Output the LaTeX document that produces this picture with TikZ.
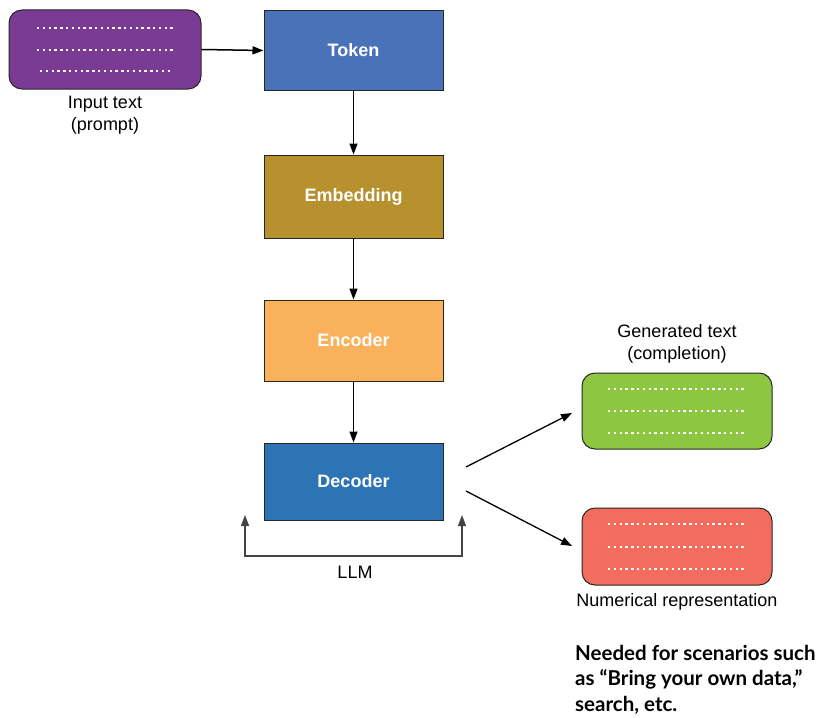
\documentclass[tikz,border=0pt]{standalone}
\usepackage{fontspec}
\setmainfont{Liberation Sans}
\newfontfamily\notefont{Lato}
\usetikzlibrary{arrows.meta}

\definecolor{cPurple}{HTML}{7B3B94}
\definecolor{cToken}{HTML}{4A72B9}
\definecolor{cEmbed}{HTML}{B8912F}
\definecolor{cEncode}{HTML}{F9B25B}
\definecolor{cDecode}{HTML}{2E74B5}
\definecolor{cGreen}{HTML}{8DC641}
\definecolor{cRed}{HTML}{F26D5E}
\definecolor{cBracket}{HTML}{444444}

\tikzset{
  stage/.style={draw=black!85, line width=1pt, minimum width=179pt, minimum height=80pt,
    inner sep=0pt, text=white, font=\fontsize{18}{20}\selectfont\bfseries},
  textbox/.style={draw=black!85, line width=1pt, rounded corners=13pt,
    minimum width=191pt, minimum height=77pt, inner sep=0pt},
  dotrow/.style={white, line width=2.6pt, dash pattern=on 2.4pt off 3.4pt},
  caption/.style={font=\fontsize{18}{22}\selectfont, align=center, inner sep=0pt},
  tip/.style={Triangle[length=11pt,width=8pt]},
  flow/.style={line width=1.5pt, -{Triangle[length=11pt,width=8pt]}},
  bracket/.style={cBracket, line width=1.2pt, {Triangle[length=11pt,width=8pt]}-{Triangle[length=11pt,width=8pt]}}
}

\begin{document}
\begin{tikzpicture}[x=1pt,y=-1pt]
\useasboundingbox (0,0) rectangle (821,717);

% input prompt
\node[textbox, fill=cPurple, minimum width=192pt, minimum height=79pt] (input) at (105,49.5) {};
\draw[dotrow] (37,28) -- (175,28);
\draw[dotrow] (37,50) -- (175,50);
\draw[dotrow] (40,71) -- (172,71);
\node[caption] (inputlbl) at (105,115) {Input text\\(prompt)};

% LLM pipeline stages
\node[stage, fill=cToken] (token) at (353.5,50.5) {Token};
\node[stage, fill=cEmbed, minimum height=83pt] (embed) at (353.5,196.5) {Embedding};
\node[stage, fill=cEncode, minimum height=81pt] (encode) at (353.5,340.5) {Encoder};
\node[stage, fill=cDecode, minimum height=77pt] (decode) at (353.5,481.5) {Decoder};

\draw[flow] (input.east) -- (token.west);
\draw[flow] (token) -- (embed);
\draw[flow] (embed) -- (encode);
\draw[flow] (encode) -- (decode);

% bracket marking the LLM
\coordinate (brL) at (245,515);
\coordinate (brR) at (462,515);
\draw[bracket] (brL) -- (245,556) -- (462,556) -- (brR);
\node[caption] (llm) at (355,572) {LLM};

% outputs
\node[textbox, fill=cGreen, minimum width=190pt, minimum height=76pt] (gen) at (677,411) {};
\draw[dotrow] (608,389) -- (747,389);
\draw[dotrow] (608,411) -- (747,411);
\draw[dotrow] (608,433) -- (747,433);
\node[caption] (genlbl) at (677,344) {Generated text\\(completion)};

\node[textbox, fill=cRed, minimum width=190pt, minimum height=77pt] (num) at (677,546.5) {};
\draw[dotrow] (608,524) -- (747,524);
\draw[dotrow] (608,547) -- (747,547);
\draw[dotrow] (608,569) -- (747,569);
\node[caption] (numlbl) at (677,602) {Numerical representation};

\coordinate (outA) at (466,467);
\coordinate (outB) at (466,491);
\coordinate (genIn) at (572,413);
\coordinate (numIn) at (572,546);
\draw[flow, line width=1.3pt] (outA) -- (genIn);
\draw[flow, line width=1.3pt] (outB) -- (numIn);

% note
\node[anchor=north west, inner sep=0pt, align=left,
  font=\notefont\fontsize{20.5}{25.5}\selectfont\bfseries] (note) at (575,645)
  {Needed for scenarios such\\as “Bring your own data,”\\search, etc.};
\end{tikzpicture}
\end{document}
